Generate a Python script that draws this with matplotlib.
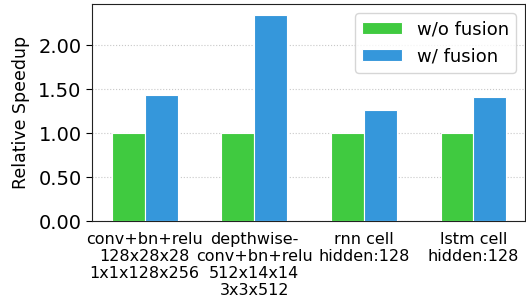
import matplotlib
matplotlib.use("Agg")
import matplotlib.pyplot as plt
import numpy as np

categories = ["conv+bn+relu\n128x28x28\n1x1x128x256",
              "depthwise-\nconv+bn+relu\n512x14x14\n3x3x512",
              "rnn cell\nhidden:128",
              "lstm cell\nhidden:128"]
wo_fusion = [1.0, 1.0, 1.0, 1.0]
w_fusion = [1.43, 2.34, 1.26, 1.41]
yticks = [0.0, 0.5, 1.0, 1.5, 2.0]

fig = plt.figure(figsize=(5.26, 3.0), dpi=100)
ax = fig.add_axes([0.175, 0.263, 0.823, 0.723])
x = np.arange(len(categories))
w = 0.3
ax.bar(x - w/2, wo_fusion, w, color="#40ca40", edgecolor="white", linewidth=0.8, label="w/o fusion", zorder=3)
ax.bar(x + w/2, w_fusion, w, color="#3597db", edgecolor="white", linewidth=0.8, label="w/ fusion", zorder=3)
ax.set_xlim(-0.48, 3.47)
ax.set_ylim(0, 2.466)
ax.set_yticks(yticks)
ax.set_yticklabels([f"{v:.2f}" for v in yticks], fontsize=14)
ax.set_xticks(x)
ax.set_xticklabels(categories, fontsize=11.5, linespacing=1.15)
ax.tick_params(axis="x", length=0, pad=8)
ax.tick_params(axis="y", length=4)
ax.set_ylabel("Relative Speedup", fontsize=12.5, labelpad=6)
ax.yaxis.grid(True, linestyle=":", color="#c8c8c8", linewidth=0.8, zorder=0)
for s in ax.spines.values():
    s.set_color("#222222")
ax.legend(loc="upper right", fontsize=13, frameon=True, fancybox=True, framealpha=0.8,
          handlelength=2.2)
fig.savefig("out.png", dpi=100)
